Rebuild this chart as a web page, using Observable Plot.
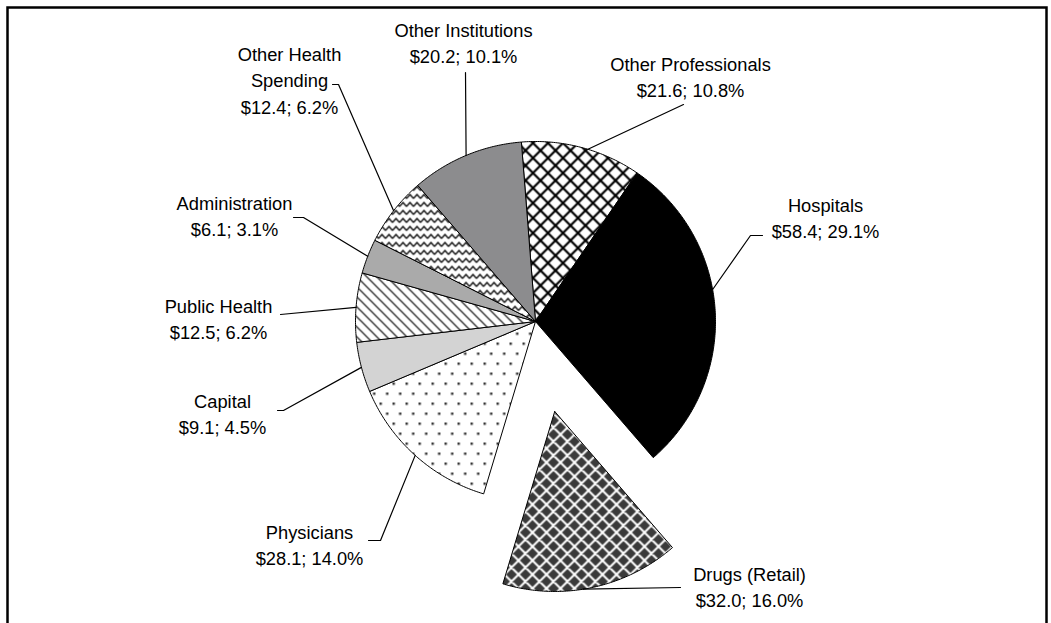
<!DOCTYPE html>
<html><head><meta charset="utf-8">
<script src="https://cdn.jsdelivr.net/npm/d3@7"></script>
<script src="https://cdn.jsdelivr.net/npm/@observablehq/plot@0.6"></script>
<style>body{margin:0;background:#fff;}</style>
</head><body><div id="chart"></div>
<script>
// ---- data ----
const categories = ["Other Professionals","Hospitals","Drugs (Retail)","Physicians","Capital","Public Health","Administration","Other Health Spending","Other Institutions"];
const labelNames = ["Other Professionals","Hospitals","Drugs (Retail)","Physicians","Capital","Public Health","Administration","Other Health\nSpending","Other Institutions"];
const amounts = [21.6, 58.4, 32.0, 28.1, 9.1, 12.5, 6.1, 12.4, 20.2];
const shares = [10.8, 29.1, 16.0, 14.0, 4.5, 6.2, 3.1, 6.2, 10.1];

// ---- styles / layout ----
const fills = ["url(#pOP)", "#000000", "url(#pDrug)", "url(#pPhys)", "#d3d3d3", "url(#pPH)", "#aaaaaa", "url(#pOHS)", "#8c8c8e"];
const R = 180;
const startDeg = -4.5;
const explode = {"Drugs (Retail)": 92};
const labelAt = {
  "Other Professionals": [155, -246],
  "Hospitals": [290, -104.5],
  "Drugs (Retail)": [214, 264.5],
  "Physicians": [-226, 222.5],
  "Capital": [-313, 91.5],
  "Public Health": [-317, -3.5],
  "Administration": [-301, -106.5],
  "Other Health Spending": [-246, -242.5],
  "Other Institutions": [-72, -279.5]
};
const leaderFrom = {
  "Other Professionals": [[148, -217]],
  "Hospitals": [[227, -86], [215, -86]],
  "Drugs (Retail)": [[145, 266]],
  "Physicians": [[-167, 219], [-155, 219]],
  "Capital": [[-258, 89], [-252, 89]],
  "Public Health": [[-255, -7]],
  "Administration": [[-242, -104], [-232, -104]],
  "Other Health Spending": [[-203, -237], [-197, -237]],
  "Other Institutions": [[-70, -249]]
};
const leaderAngleAdj = {"Hospitals": -7, "Drugs (Retail)": 3, "Other Professionals": 2};

const rad = Math.PI / 180;
const rows = categories.map((c, i) => ({name: c, label: labelNames[i], amount: amounts[i], share: shares[i], fill: fills[i]}));
const pie = d3.pie().sort(null).value(d => d.share)
  .startAngle(startDeg * rad).endAngle(startDeg * rad + 2 * Math.PI);
const arcs = pie(rows);
const polar = (cx, cy, r, a) => [cx + r * Math.sin(a), cy - r * Math.cos(a)];

const slices = arcs.map(a => {
  const mid = (a.startAngle + a.endAngle) / 2;
  const off = explode[a.data.name] || 0;
  const [cx, cy] = polar(0, 0, off, mid);
  const pts = [{x: cx, y: cy}];
  const n = Math.ceil((a.endAngle - a.startAngle) / 0.01);
  for (let k = 0; k <= n; k++) {
    const t = a.startAngle + (a.endAngle - a.startAngle) * k / n;
    const [x, y] = polar(cx, cy, R, t);
    pts.push({x, y});
  }
  pts.push({x: cx, y: cy});
  return {...a.data, cx, cy, mid, pts};
});

const leaderPts = slices.flatMap(s => {
  const pts = leaderFrom[s.name].map(([x, y]) => ({name: s.name, x, y}));
  const [ex, ey] = polar(s.cx, s.cy, R, s.mid + (leaderAngleAdj[s.name] || 0) * rad);
  pts.push({name: s.name, x: ex, y: ey});
  return pts;
});

const labels = slices.map(s => ({
  x: labelAt[s.name][0], y: labelAt[s.name][1],
  text: `${s.label}\n$${s.amount.toFixed(1)}; ${s.share.toFixed(1)}%`
}));

const svg = Plot.plot({
  width: 1051, height: 623,
  marginTop: 7, marginLeft: 7, marginRight: 5, marginBottom: 0,
  x: {domain: [-535, 516], range: [0, 1051], axis: null},
  y: {domain: [-321, 302], range: [0, 623], axis: null},
  style: {fontFamily: "'Liberation Sans', Arial, sans-serif", background: "#fff", color: "#000"},
  marks: [
    Plot.frame({stroke: "#000", strokeWidth: 2.5, insetBottom: -10}),
    ...slices.map(s => Plot.line(s.pts, {x: "x", y: "y", fill: s.fill, stroke: "#000", strokeWidth: 1, strokeLinejoin: "round"})),
    Plot.line(leaderPts, {x: "x", y: "y", z: "name", stroke: "#000", strokeWidth: 1.2}),
    Plot.text(labels, {x: "x", y: "y", text: "text", fontSize: 18.3, lineHeight: 1.43, fill: "#000", textAnchor: "middle"})
  ]
});

const defs = document.createElementNS("http://www.w3.org/2000/svg", "defs");
defs.innerHTML = `
<pattern id="pOP" patternUnits="userSpaceOnUse" width="15" height="15">
  <rect width="15" height="15" fill="#fff"/>
  <path d="M0,0L15,15M15,0L0,15M-1,14L1,16M14,-1L16,1M-1,1L1,-1M14,16L16,14" stroke="#000" stroke-width="2.2"/>
</pattern>
<pattern id="pDrug" patternUnits="userSpaceOnUse" width="14" height="14">
  <rect width="14" height="14" fill="#3a3a3a"/>
  <path d="M0,0L14,14M14,0L0,14M-1,13L1,15M13,-1L15,1M-1,1L1,-1M13,15L15,13" stroke="#fff" stroke-width="2"/>
</pattern>
<pattern id="pPhys" patternUnits="userSpaceOnUse" width="13" height="20">
  <rect width="13" height="20" fill="#fff"/>
  <rect x="2" y="2" width="2.4" height="2.4" fill="#333"/>
  <rect x="8.5" y="12" width="2.4" height="2.4" fill="#333"/>
</pattern>
<pattern id="pPH" patternUnits="userSpaceOnUse" width="10" height="10">
  <rect width="10" height="10" fill="#fff"/>
  <path d="M0,0L10,10M-1,9L1,11M9,-1L11,1" stroke="#000" stroke-width="1.2"/>
</pattern>
<pattern id="pOHS" patternUnits="userSpaceOnUse" width="7" height="8">
  <rect width="7" height="8" fill="#fff"/>
  <path d="M0,6L3.5,2L7,6" fill="none" stroke="#000" stroke-width="1.2"/>
</pattern>`;
svg.insertBefore(defs, svg.firstChild);
document.getElementById("chart").appendChild(svg);
</script>
</body></html>
